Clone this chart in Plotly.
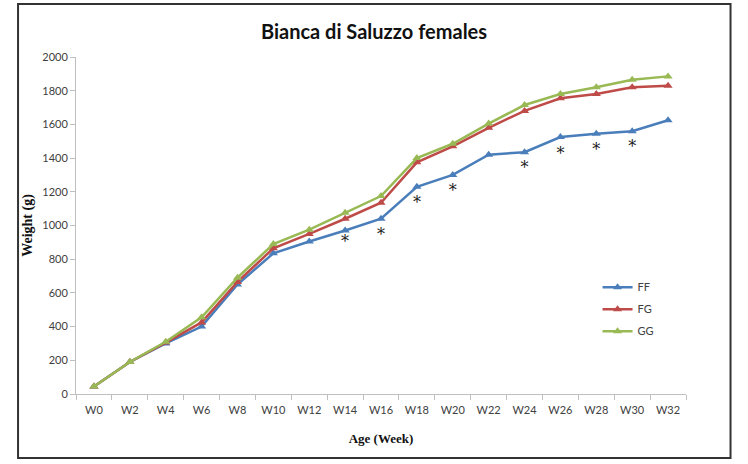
import plotly.graph_objects as go

weeks = ["W0", "W2", "W4", "W6", "W8", "W10", "W12", "W14", "W16", "W18",
         "W20", "W22", "W24", "W26", "W28", "W30", "W32"]
ff = [45, 190, 300, 400, 650, 835, 905, 970, 1040, 1230, 1300, 1420, 1435, 1525, 1545, 1560, 1625]
fg = [45, 190, 305, 425, 665, 865, 950, 1040, 1135, 1375, 1470, 1580, 1680, 1755, 1780, 1820, 1830]
gg = [45, 190, 310, 455, 690, 890, 975, 1075, 1175, 1400, 1485, 1605, 1715, 1780, 1820, 1865, 1885]
sig_weeks = ["W14", "W16", "W18", "W20", "W24", "W26", "W28", "W30"]
sig_y = [895, 940, 1130, 1200, 1335, 1420, 1440, 1460]

colors = {"FF": "#4a7ebb", "FG": "#be4b48", "GG": "#98b954"}

fig = go.Figure()
for name, vals in [("FF", ff), ("FG", fg), ("GG", gg)]:
    fig.add_trace(go.Scatter(
        x=weeks, y=vals, name=name, mode="lines+markers", legendgroup=name,
        line=dict(color=colors[name], width=2.5),
        marker=dict(symbol="triangle-up", size=8, color=colors[name]),
    ))

fig.add_trace(go.Scatter(
    x=sig_weeks, y=sig_y, mode="text", text=["*"] * len(sig_weeks),
    textfont=dict(family="DejaVu Serif", size=16, color="#1a1a1a"),
    showlegend=False, hoverinfo="skip",
))

axis_font = dict(family="Lato", size=11, color="#404040")
fig.update_layout(
    width=748, height=464,
    paper_bgcolor="white", plot_bgcolor="white",
    margin=dict(l=76, r=62, t=57, b=70),
    title=dict(text="<b>Bianca di Saluzzo females</b>", x=0.5, xanchor="center",
               y=0.93, yanchor="middle",
               font=dict(family="Lato", size=20, color="#111111")),
    xaxis=dict(
        type="category", range=[-0.5, 16.5], tickson="boundaries",
        showline=True, linecolor="#bfbfbf", linewidth=1,
        ticks="outside", ticklen=5, tickcolor="#bfbfbf",
        ticklabelstandoff=6,
        showgrid=False, tickfont=axis_font,
        title=dict(text="<b>Age (Week)</b>", standoff=18,
                   font=dict(family="Liberation Serif", size=13, color="#111111")),
    ),
    yaxis=dict(
        range=[0, 2000], dtick=200,
        showline=True, linecolor="#bfbfbf", linewidth=1,
        ticks="outside", ticklen=5, tickcolor="#bfbfbf",
        showgrid=False, zeroline=False, tickfont=axis_font,
        title=dict(text="<b>Weight (g)</b>", standoff=6,
                   font=dict(family="Liberation Serif", size=14, color="#111111")),
    ),
    legend=dict(x=0.855, y=0.36, xanchor="left", yanchor="top",
                font=dict(family="Lato", size=11, color="#404040"),
                bgcolor="rgba(0,0,0,0)", tracegroupgap=3, itemwidth=30),
    shapes=[dict(type="rect", xref="paper", yref="paper",
                 x0=-0.095, x1=1.073, y0=-0.19, y1=1.157,
                 line=dict(color="#333333", width=2))],
)

fig.write_html("out.html", config={"displayModeBar": False},
               post_script="document.body.style.margin='0';document.body.style.padding='0';")
